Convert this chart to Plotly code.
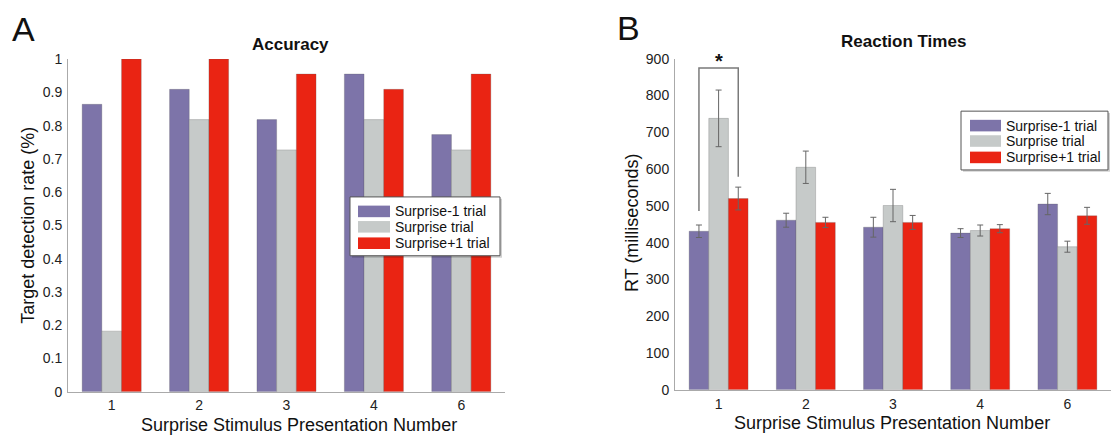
import plotly.graph_objects as go

# ---------------- data ----------------
categories = ["1", "2", "3", "4", "6"]
series_names = ["Surprise-1 trial", "Surprise trial", "Surprise+1 trial"]
colors = ["#7D74A9", "#C6CAC9", "#EA2413"]

acc_pre = [0.864, 0.909, 0.818, 0.955, 0.773]
acc_sur = [0.182, 0.818, 0.727, 0.818, 0.727]
acc_post = [1.0, 1.0, 0.955, 0.909, 0.955]

rt_pre = [431, 461, 442, 426, 505]
rt_sur = [738, 605, 501, 433, 389]
rt_post = [520, 455, 455, 438, 473]

rt_pre_err = [17, 19, 27, 12, 29]
rt_sur_err = [77, 44, 44, 15, 15]
rt_post_err = [31, 14, 19, 11, 23]

acc_ticks = [0, 0.1, 0.2, 0.3, 0.4, 0.5, 0.6, 0.7, 0.8, 0.9, 1]
rt_ticks = [0, 100, 200, 300, 400, 500, 600, 700, 800, 900]

# significance bracket (group "1": Surprise-1 vs Surprise+1)
sig_left_y = 486
sig_right_y = 579
sig_top_y = 875

# ---------------- layout helpers ----------------
W, H = 1111, 444
FONT = "Liberation Sans, Arial, Helvetica, sans-serif"
BARGAP = 0.324
bar_w = (1 - BARGAP) / 3


def px(x):
    return x / W


def py(y):
    return 1 - y / H


xpos = list(range(1, len(categories) + 1))

fig = go.Figure()

acc_vals = [acc_pre, acc_sur, acc_post]
for name, col, vals in zip(series_names, colors, acc_vals):
    fig.add_trace(go.Bar(
        x=xpos, y=vals, name=name, marker_color=col,
        marker_line=dict(color="rgba(90,90,90,0.45)", width=0.6),
        xaxis="x", yaxis="y", showlegend=False, offsetgroup=name,
    ))

rt_vals = [rt_pre, rt_sur, rt_post]
rt_errs = [rt_pre_err, rt_sur_err, rt_post_err]
for name, col, vals, err in zip(series_names, colors, rt_vals, rt_errs):
    fig.add_trace(go.Bar(
        x=xpos, y=vals, name=name, marker_color=col,
        marker_line=dict(color="rgba(90,90,90,0.45)", width=0.6),
        error_y=dict(type="data", array=err, visible=True, color="#666666",
                     thickness=1, width=3),
        xaxis="x2", yaxis="y2", showlegend=False, offsetgroup=name + "b",
    ))

axis_common = dict(
    showline=True, linecolor="#AAAAAA", linewidth=1, showgrid=False,
    zeroline=False, ticks="", tickfont=dict(family=FONT, size=14, color="#222"),
)

fig.update_layout(
    width=W, height=H,
    margin=dict(l=0, r=0, t=0, b=0),
    paper_bgcolor="white", plot_bgcolor="white",
    barmode="group", bargap=BARGAP, bargroupgap=0,
    xaxis=dict(domain=[px(68), px(505)], range=[0.5, 5.5],
               tickvals=xpos, ticktext=categories, anchor="y",
               ticklabelstandoff=1, **axis_common),
    yaxis=dict(domain=[py(398), py(53)], range=[0, 1],
               tickvals=acc_ticks, ticktext=[f"{t:g}" for t in acc_ticks],
               anchor="x", ticklabelstandoff=2, **axis_common),
    xaxis2=dict(domain=[px(675), 1.0], range=[0.5, 5.5],
                tickvals=xpos, ticktext=categories, anchor="y2",
                ticklabelstandoff=1, **axis_common),
    yaxis2=dict(domain=[py(396), py(52.7)], range=[0, 900],
                tickvals=rt_ticks, ticktext=[str(t) for t in rt_ticks],
                anchor="x2", ticklabelstandoff=2, **axis_common),
)

annotations = []
shapes = []


def text(x, y, s, size, bold=False, angle=0, xanchor="center"):
    annotations.append(dict(
        x=px(x), y=py(y), xref="paper", yref="paper", text=f"<b>{s}</b>" if bold else s,
        showarrow=False, font=dict(family=FONT, size=size, color="#111"),
        textangle=angle, xanchor=xanchor, yanchor="middle",
    ))


# panel letters
text(23, 22, "A", 34)
text(628, 21, "B", 34)
# titles
text(290, 38, "Accuracy", 17, bold=True)
text(903, 35, "Reaction Times", 17, bold=True)
# axis titles
text(299, 433, "Surprise Stimulus Presentation Number", 18)
text(892, 431, "Surprise Stimulus Presentation Number", 18)
text(28, 226, "Target detection rate (%)", 18, angle=-90)
text(632, 223, "RT (milliseconds)", 18, angle=-90)


def legend(x0, y0, x1, y1, rows, sw_x0, sw_x1, tx):
    shapes.append(dict(type="rect", xref="paper", yref="paper",
                       x0=px(x0 + 2), x1=px(x1 + 2), y0=py(y1 + 2), y1=py(y0 + 2),
                       line=dict(width=0), fillcolor="rgba(0,0,0,0.18)", layer="above"))
    shapes.append(dict(type="rect", xref="paper", yref="paper",
                       x0=px(x0), x1=px(x1), y0=py(y1), y1=py(y0),
                       line=dict(color="#555555", width=1), fillcolor="white", layer="above"))
    for ry, name, col in zip(rows, series_names, colors):
        shapes.append(dict(type="rect", xref="paper", yref="paper",
                           x0=px(sw_x0), x1=px(sw_x1), y0=py(ry + 6), y1=py(ry - 6),
                           line=dict(width=0), fillcolor=col, layer="above"))
        annotations.append(dict(
            x=px(tx), y=py(ry), xref="paper", yref="paper", text=name,
            showarrow=False, xanchor="left", yanchor="middle",
            font=dict(family=FONT, size=14, color="#111"),
        ))


legend(350, 196, 500, 257, [211, 227, 244], 358, 390, 393)
legend(961, 107, 1108, 168, [122, 138, 155], 970, 1001, 1004)

# significance bracket in data coordinates of panel B
bx_left = xpos[0] - bar_w
bx_right = xpos[0] + bar_w
shapes.append(dict(type="path", xref="x2", yref="y2",
                   path=f"M {bx_left},{sig_left_y} L {bx_left},{sig_top_y} "
                        f"L {bx_right},{sig_top_y} L {bx_right},{sig_right_y}",
                   line=dict(color="#7A7A7A", width=1.5)))
annotations.append(dict(x=xpos[0], y=sig_top_y, xref="x2", yref="y2", text="<b>*</b>",
                        showarrow=False, yanchor="bottom", yshift=-6,
                        font=dict(family=FONT, size=20, color="#111")))

fig.update_layout(annotations=annotations, shapes=shapes)
fig.write_html("out.html", config={"displayModeBar": False},
               post_script="document.body.style.margin='0px';document.body.style.overflow='hidden';")
